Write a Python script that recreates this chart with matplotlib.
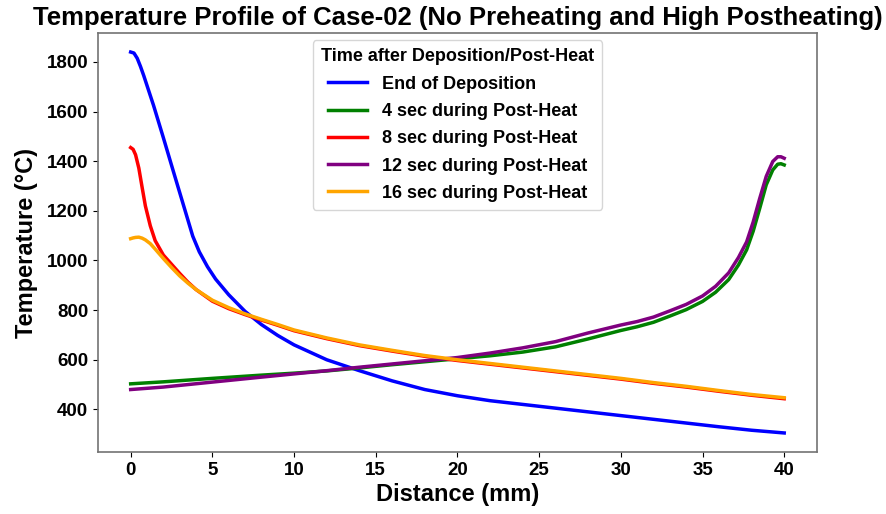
import matplotlib.pyplot as plt

plt.rcParams['font.family'] = ['Liberation Sans', 'DejaVu Sans']
plt.rcParams['font.weight'] = 'bold'

# distance along the wall (mm) for each curve
x_dep = [0, 0.2, 0.4, 0.6, 0.8, 1.0, 1.4, 2.0, 2.6, 3.2, 3.8, 4.2, 4.7, 5.2, 6, 7, 8, 9, 10,
         12, 14, 16, 18, 20, 22, 24, 26, 28, 30, 32, 34, 36, 38, 40]
t_end_dep = [1840, 1836, 1815, 1782, 1745, 1705, 1625, 1495, 1362, 1230, 1098, 1035, 975, 925,
             862, 795, 742, 698, 660, 600, 556, 515, 480, 455, 435, 420, 405, 390, 375, 360,
             345, 330, 316, 305]

x_cool = [0, 0.15, 0.3, 0.5, 0.7, 0.9, 1.2, 1.5, 2, 2.5, 3, 3.5, 4, 5, 6, 7, 8, 9, 10, 12,
          14, 16, 18, 20, 22, 24, 26, 28, 30, 32, 34, 36, 38, 40]
t_8s = [1455, 1448, 1426, 1372, 1295, 1220, 1140, 1080, 1022, 985, 948, 913, 883, 836, 806,
        782, 760, 739, 717, 685, 657, 635, 614, 597, 582, 567, 552, 537, 522, 505, 490, 473,
        457, 443]
t_16s = [1088, 1091, 1093, 1094, 1090, 1083, 1068, 1046, 1008, 972, 938, 909, 883, 840, 810,
         785, 763, 742, 720, 688, 660, 638, 617, 600, 585, 570, 555, 540, 525, 508, 493, 476,
         460, 447]

x_heat = [0, 2, 5, 8, 10, 12, 14, 16, 18, 20, 22, 24, 26, 28, 30, 31, 32, 33, 34, 35, 35.8,
          36.6, 37.2, 37.7, 38.1, 38.5, 38.9, 39.3, 39.6, 39.8, 40]
t_4s = [503, 511, 525, 538, 546, 555, 567, 580, 592, 604, 616, 631, 652, 684, 718, 733, 751,
        776, 802, 835, 872, 923, 982, 1043, 1118, 1210, 1305, 1365, 1388, 1390, 1385]
t_12s = [480, 490, 510, 530, 543, 556, 570, 583, 596, 609, 627, 648, 673, 708, 740, 754, 772,
         797, 823, 857, 896, 950, 1012, 1075, 1155, 1250, 1339, 1399, 1418, 1418, 1412]

fig = plt.figure(figsize=(8.86, 5.14), dpi=100)
ax = fig.add_axes([0.1106, 0.1206, 0.8114, 0.8152])

ax.plot(x_dep, t_end_dep, color='blue', lw=2.5, label='End of Deposition')
ax.plot(x_heat, t_4s, color='green', lw=2.5, label='4 sec during Post-Heat')
ax.plot(x_cool, t_8s, color='red', lw=2.5, label='8 sec during Post-Heat')
ax.plot(x_heat, t_12s, color='purple', lw=2.5, label='12 sec during Post-Heat')
ax.plot(x_cool, t_16s, color='orange', lw=2.5, label='16 sec during Post-Heat')

ax.set_title('Temperature Profile of Case-02 (No Preheating and High Postheating)',
             fontsize=18.5, fontweight='bold', pad=6)
ax.set_xlabel('Distance (mm)', fontsize=17, fontweight='bold', labelpad=3)
ax.set_ylabel('Temperature (°C)', fontsize=17, fontweight='bold', labelpad=6)
ax.set_xticks(range(0, 41, 5))
ax.set_yticks(range(400, 1801, 200))
ax.tick_params(labelsize=13.5, colors='black')
for t in ax.get_xticklabels() + ax.get_yticklabels():
    t.set_fontweight('bold')
for s in ax.spines.values():
    s.set_color('0.45')
    s.set_linewidth(1.2)

leg = ax.legend(title='Time after Deposition/Post-Heat', loc='upper center',
                prop={'size': 13, 'weight': 'bold'},
                title_fontproperties={'size': 13, 'weight': 'bold'},
                handlelength=2.2, borderaxespad=0.4, borderpad=0.45, labelspacing=0.57)

fig.savefig('out.png', dpi=100)
